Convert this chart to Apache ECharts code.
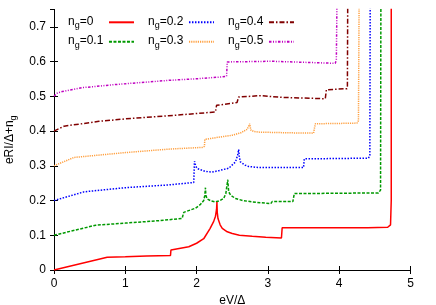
<!DOCTYPE html>
<html>
<head>
<meta charset="utf-8">
<style>html,body{margin:0;padding:0;background:#fff;}#c{width:436px;height:305px;}</style>
<script src="https://cdn.jsdelivr.net/npm/echarts@6/dist/echarts.min.js"></script>
</head>
<body>
<div id="c"></div>
<script>
// x-axis / y-axis ticks
const xTicks = [0, 1, 2, 3, 4, 5];
const yTicks = [0, 0.1, 0.2, 0.3, 0.4, 0.5, 0.6, 0.7];

// legend names (gate charge n_g)
const names = ['n_g=0', 'n_g=0.1', 'n_g=0.2', 'n_g=0.3', 'n_g=0.4', 'n_g=0.5'];

// curves: [eV/Δ, eRI/Δ + n_g]
const ng0 = [[0,0],[0.746,0.0365],[1.0,0.038],[1.3,0.040],[1.634,0.042],[1.64,0.0575],[1.89,0.067],[2.0,0.077],[2.1,0.09],[2.19,0.12],[2.24,0.14],[2.265,0.155],[2.28,0.175],[2.285,0.196],[2.29,0.165],[2.30,0.148],[2.33,0.13],[2.36,0.12],[2.43,0.11],[2.5,0.105],[2.6,0.1],[2.78,0.097],[2.97,0.094],[3.19,0.092],[3.2,0.1215],[3.6,0.1218],[4.0,0.122],[4.4,0.122],[4.68,0.123],[4.72,0.13],[4.73,0.2],[4.73,0.8]];
const ng1 = [[0,0.1],[0.584,0.129],[1.0,0.135],[1.47,0.142],[1.48,0.1456],[1.797,0.1485],[1.82,0.166],[1.985,0.178],[2.05,0.188],[2.10,0.2],[2.115,0.215],[2.124,0.237],[2.13,0.215],[2.147,0.205],[2.20,0.199],[2.265,0.196],[2.33,0.2],[2.38,0.206],[2.41,0.22],[2.437,0.26],[2.45,0.225],[2.48,0.215],[2.545,0.206],[2.65,0.2],[2.78,0.196],[3.04,0.191],[3.06,0.197],[3.35,0.197],[3.37,0.22],[4.0,0.221],[4.55,0.222],[4.58,0.23],[4.585,0.8]];
const ng2 = [[0,0.2],[0.42,0.225],[1.0,0.237],[1.61,0.245],[1.96,0.252],[1.97,0.313],[1.99,0.298],[2.01,0.292],[2.12,0.284],[2.217,0.282],[2.31,0.286],[2.45,0.293],[2.545,0.311],[2.575,0.33],[2.59,0.347],[2.6,0.325],[2.615,0.311],[2.68,0.302],[2.73,0.298],[2.87,0.295],[3.2,0.295],[3.5,0.295],[3.51,0.32],[4.0,0.321],[4.41,0.322],[4.43,0.33],[4.435,0.8]];
const ng3 = [[0,0.3],[0.28,0.324],[1.0,0.338],[1.61,0.348],[2.08,0.353],[2.11,0.356],[2.115,0.376],[2.3,0.382],[2.5,0.388],[2.62,0.395],[2.71,0.405],[2.745,0.421],[2.76,0.403],[2.8,0.399],[2.87,0.397],[3.29,0.395],[3.64,0.394],[3.665,0.421],[4.0,0.422],[4.25,0.423],[4.27,0.43],[4.28,0.8]];
const ng4 = [[0,0.4],[0.14,0.414],[0.63,0.428],[1.0,0.435],[1.61,0.444],[2.264,0.455],[2.28,0.474],[2.567,0.482],[2.59,0.498],[2.895,0.502],[3.2,0.497],[3.805,0.493],[3.82,0.519],[4.11,0.522],[4.115,0.53],[4.12,0.8]];
const ng5 = [[0,0.5],[0.05,0.51],[0.117,0.514],[0.4,0.525],[0.864,0.534],[1.61,0.546],[2.03,0.551],[2.357,0.556],[2.42,0.558],[2.43,0.599],[3.06,0.601],[3.5,0.598],[3.945,0.595],[3.96,0.605],[3.97,0.8]];

const curves = [ng0, ng1, ng2, ng3, ng4, ng5];
const colors = ['#ff0000', '#009900', '#0000ff', '#ffa040', '#800000', '#c000c0'];
const dashes = ['solid', [3, 1.5], [1.5, 1.5], [1.2, 1], [5, 2, 1.5, 2], [2.5, 1.5, 1, 1.5, 1, 1.5]];

const FONT = 'Liberation Sans';
const measureCtx = document.createElement('canvas').getContext('2d');
measureCtx.font = '12px "' + FONT + '"';
const VW = 24.3;
const rich = {
  n: {fontFamily: FONT, fontSize: 12, color: '#000', lineHeight: 14, verticalAlign: 'top'},
  g: {fontFamily: FONT, fontSize: 9, color: '#000', lineHeight: 11, padding: [6, 0, 0, 0], verticalAlign: 'top'}
};
names.forEach((nm, i) => {
  const w = measureCtx.measureText(nm.slice(3)).width;
  rich['v' + i] = {fontFamily: FONT, fontSize: 12, color: '#000', lineHeight: 14, verticalAlign: 'top',
    padding: [0, Math.max(0, VW - w), 0, 0]};
});
function legendFmt(name) {
  const i = names.indexOf(name);
  return '{n|n}{g|g}{v' + i + '|' + name.slice(3) + '}';
}

const chart = echarts.init(document.getElementById('c'), null, {renderer: 'canvas'});
const legendCols = [[0, 1, 68], [2, 3, 148], [4, 5, 228]];
const grid = {left: 54, right: 25.5, top: 9.5, bottom: 35, containLabel: false, outerBoundsMode: 'none'};
const axisCommon = {
  axisLine: {show: true, lineStyle: {color: '#000', width: 1}},
  axisTick: {show: true, inside: true, length: 4, lineStyle: {color: '#000'}},
  splitLine: {show: false}
};
chart.setOption({
  animation: false,
  backgroundColor: '#fff',
  grid: grid,
  legend: legendCols.map(c => ({
    data: [names[c[0]], names[c[1]]],
    orient: 'vertical',
    left: c[2],
    top: 15.3,
    align: 'right',
    itemWidth: 25,
    itemHeight: 14,
    itemGap: 4.4,
    padding: 0,
    selectedMode: false,
    formatter: legendFmt,
    itemStyle: {opacity: 0},
    textStyle: {fontFamily: FONT, fontSize: 12, color: '#000', rich: rich}
  })),
  xAxis: [
    Object.assign({
      type: 'value', min: 0, max: 5, interval: 1,
      name: 'eV/Δ', nameLocation: 'middle', nameGap: 23,
      nameTextStyle: {fontFamily: FONT, fontSize: 12, color: '#000'},
      axisLabel: {fontFamily: FONT, fontSize: 12, color: '#000', margin: 8,
        formatter: v => xTicks.indexOf(v) >= 0 ? String(v) : ''}
    }, axisCommon),
    Object.assign({
      type: 'value', min: 0, max: 5, interval: 1, position: 'top',
      axisLabel: {show: false}
    }, axisCommon)
  ],
  yAxis: [
    Object.assign({
      type: 'value', min: 0, max: 0.75, interval: 0.1,
      name: 'eRI/Δ+n{g|g}', nameLocation: 'middle', nameGap: 25,
      nameTextStyle: {fontFamily: FONT, fontSize: 12, color: '#000', rich: {
        g: {fontFamily: FONT, fontSize: 9, color: '#000', padding: [6, 0, 0, 0], verticalAlign: 'top', lineHeight: 11}
      }},
      axisLabel: {fontFamily: FONT, fontSize: 12, color: '#000', margin: 8, showMaxLabel: false,
        formatter: v => {
          const t = yTicks.find(k => Math.abs(k - v) < 1e-9);
          return t === undefined ? '' : String(t);
        }}
    }, axisCommon),
    Object.assign({
      type: 'value', min: 0, max: 0.75, interval: 0.1, position: 'right',
      axisLabel: {show: false}
    }, axisCommon)
  ],
  series: curves.map((d, i) => ({
    name: names[i],
    type: 'line',
    data: d,
    xAxisIndex: 0,
    yAxisIndex: 0,
    symbol: 'none',
    showSymbol: false,
    clip: true,
    z: 10 - i,
    lineStyle: {color: colors[i], width: 1.5, type: dashes[i]},
    itemStyle: {color: colors[i]}
  }))
});
</script>
</body>
</html>
